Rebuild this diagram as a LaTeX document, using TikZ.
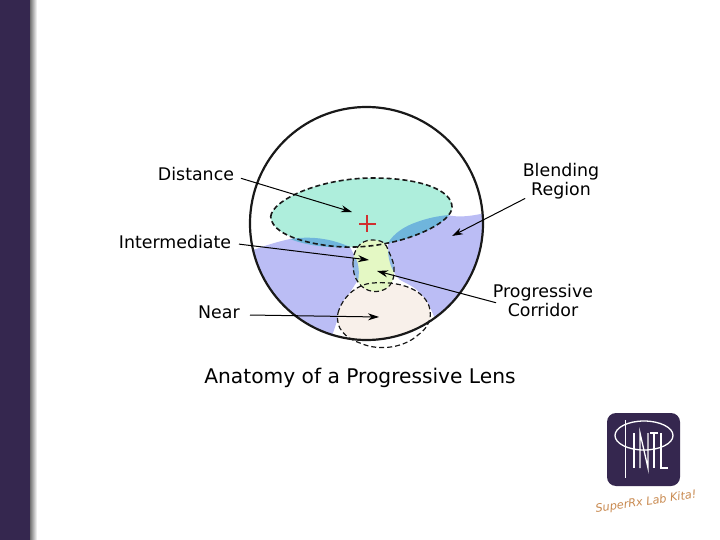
\documentclass[tikz,border=0pt]{standalone}
\usepackage{fontspec}
\setmainfont{DejaVu Sans}
\usetikzlibrary{arrows.meta}
\definecolor{barc}{HTML}{35274F}
\definecolor{mint}{HTML}{AEEEDC}
\definecolor{blendc}{HTML}{BBBDF5}
\definecolor{overlapc}{HTML}{6FB5DC}
\definecolor{corr}{HTML}{E4F8C4}
\definecolor{nearc}{HTML}{F8F0EA}
\definecolor{orangec}{HTML}{C98A50}
\definecolor{crossc}{HTML}{D03030}
\tikzset{
  lab/.style={font=\fontsize{17.4}{19}\selectfont,text=black,align=center,inner sep=0pt},
  zone/.style={draw=black!90,line width=1.6pt,dash pattern=on 5pt off 3pt},
  ptr/.style={draw=black,line width=1pt,-{Stealth[length=11pt,width=7pt]},shorten <=1pt}
}
\begin{document}
\begin{tikzpicture}[x=1pt,y=-1pt]
\useasboundingbox (0,0) rectangle (720,540);
\fill[white] (0,0) rectangle (720,540);
\fill[barc] (0,0) rectangle (30,540);
\shade[left color=black!55,right color=white] (30,0) rectangle (37,540);

% lens regions
\begin{scope}
\clip (366.5,223.5) circle (116.5);
\fill[blendc] (250,251) .. controls (262,247) and (272,243) .. (290,239)
  .. controls (310,236) and (330,238) .. (350,247)
  .. controls (356,258) and (360,270) .. (358,280)
  .. controls (350,292) and (342,305) .. (338,318)
  -- (332,336) -- (250,320) -- cycle;
\fill[blendc] (388,243) .. controls (394,233) and (405,226) .. (417,222)
  .. controls (430,217) and (440,214) .. (447,215)
  .. controls (460,218) and (472,216) .. (490,212)
  -- (490,330) -- (435,319)
  .. controls (430,305) and (422,293) .. (413,287)
  .. controls (405,282) and (400,281) .. (397,277)
  .. controls (390,268) and (388,255) .. (388,243) -- cycle;
\fill[nearc] (338,313) .. controls (342,298) and (356,284) .. (373,283)
  .. controls (395,281) and (422,287) .. (429,306)
  .. controls (433,318) and (428,328) .. (418,335)
  .. controls (405,345) and (380,350) .. (360,342)
  .. controls (345,337) and (335,328) .. (338,313) -- cycle;
\end{scope}
\fill[mint] (270.7,216.7) .. controls (272,200) and (320,178) .. (373,178)
  .. controls (420,178) and (452,190) .. (452,207)
  .. controls (452,222) and (415,238) .. (388,243)
  .. controls (375,246) and (360,247) .. (353,247)
  .. controls (330,248) and (272,240) .. (270.7,216.7) -- cycle;
\fill[overlapc] (388,243) .. controls (394,233) and (405,226) .. (417,222)
  .. controls (428,218) and (438,216) .. (449,215)
  .. controls (438,228) and (412,239) .. (388,243) -- cycle;
\fill[overlapc] (290,239) .. controls (310,236) and (330,238) .. (350,247)
  .. controls (335,248) and (310,247) .. (290,239) -- cycle;
\fill[corr] (353,263) .. controls (353,250) and (360,240) .. (372,240)
  .. controls (382,240) and (386,243) .. (388,250)
  .. controls (392,258) and (395,266) .. (394,272)
  .. controls (394,280) and (391,285) .. (387,288)
  .. controls (380,293) and (366,294) .. (358,282)
  .. controls (354,277) and (353,270) .. (353,263) -- cycle;
\fill[overlapc!55!blendc] (355,257) .. controls (352,265) and (352,272) .. (358,281) .. controls (360,270) and (358,262) .. (355,257) -- cycle;
\fill[overlapc!55!blendc] (388,250) .. controls (392,258) and (395,266) .. (394,272) .. controls (391,268) and (388,258) .. (388,250) -- cycle;

% dashed outlines
\draw[zone] (270.7,216.7) .. controls (272,200) and (320,178) .. (373,178)
  .. controls (420,178) and (452,190) .. (452,207)
  .. controls (452,222) and (415,238) .. (388,243)
  .. controls (375,246) and (360,247) .. (353,247)
  .. controls (330,248) and (272,240) .. (270.7,216.7) -- cycle;
\draw[zone,line width=1.2pt] (353,263) .. controls (353,250) and (360,240) .. (372,240)
  .. controls (382,240) and (386,243) .. (388,250)
  .. controls (392,258) and (395,266) .. (394,272)
  .. controls (394,280) and (391,285) .. (387,288)
  .. controls (380,293) and (366,294) .. (358,282)
  .. controls (354,277) and (353,270) .. (353,263) -- cycle;
\draw[zone,line width=1.2pt] (338,313) .. controls (342,298) and (356,284) .. (373,283)
  .. controls (395,281) and (422,287) .. (429,306)
  .. controls (433,318) and (428,328) .. (418,335)
  .. controls (405,347) and (380,352) .. (360,343)
  .. controls (345,338) and (335,328) .. (338,313) -- cycle;

% lens rim
\node[circle,draw=black!90,line width=2.2pt,minimum size=233pt,inner sep=0pt] (lens) at (366.5,223.5) {};

% red cross
\draw[draw=crossc,line width=1.5pt] (359,224) -- (376,224) (367,215) -- (367,232);

% labels
\node[lab] (dist) at (196,174.5) {Distance};
\node[lab] (inter) at (175,242.5) {Intermediate};
\node[lab] (nearl) at (219,312.5) {Near};
\node[lab] (blend) at (561,181.5) {Blending\\Region};
\node[lab] (prog) at (543,300.5) {Progressive\\Corridor};
\node[lab,font=\fontsize{20.2}{23}\selectfont] (title) at (360,378) {Anatomy of a Progressive Lens};

\coordinate (tdist) at (352,212);
\coordinate (tinter) at (369,260);
\coordinate (tnear) at (379,317);
\coordinate (tblend) at (452,236);
\coordinate (tprog) at (377,271);
\draw[ptr] (240,178) -- (tdist);
\draw[ptr] (238,244) -- (tinter);
\draw[ptr] (249,315) -- (tnear);
\draw[ptr] (526,198) -- (tblend);
\draw[ptr] (497,303) -- (tprog);

% logo
\node[fill=barc,rounded corners=9pt,minimum size=73pt,inner sep=0pt] (logo) at (643.5,449.5) {};
\begin{scope}[draw=white,line width=1.3pt]
\draw (644,435.5) ellipse (29 and 14.5);
\draw (625.7,420) -- (625.7,478);
\draw (634,433) -- (634,468);
\draw (640,468) -- (640,433) -- (648,468) -- (648,433);
\draw (650,433) -- (658,433) (654,433) -- (654,468);
\draw (661,433) -- (661,468) -- (668,468);
\end{scope}
\node[rotate=8,text=orangec,font=\itshape\fontsize{11.3}{13}\selectfont,inner sep=0pt] (tag) at (646,502) {SuperRx Lab Kita!};
\end{tikzpicture}
\end{document}
